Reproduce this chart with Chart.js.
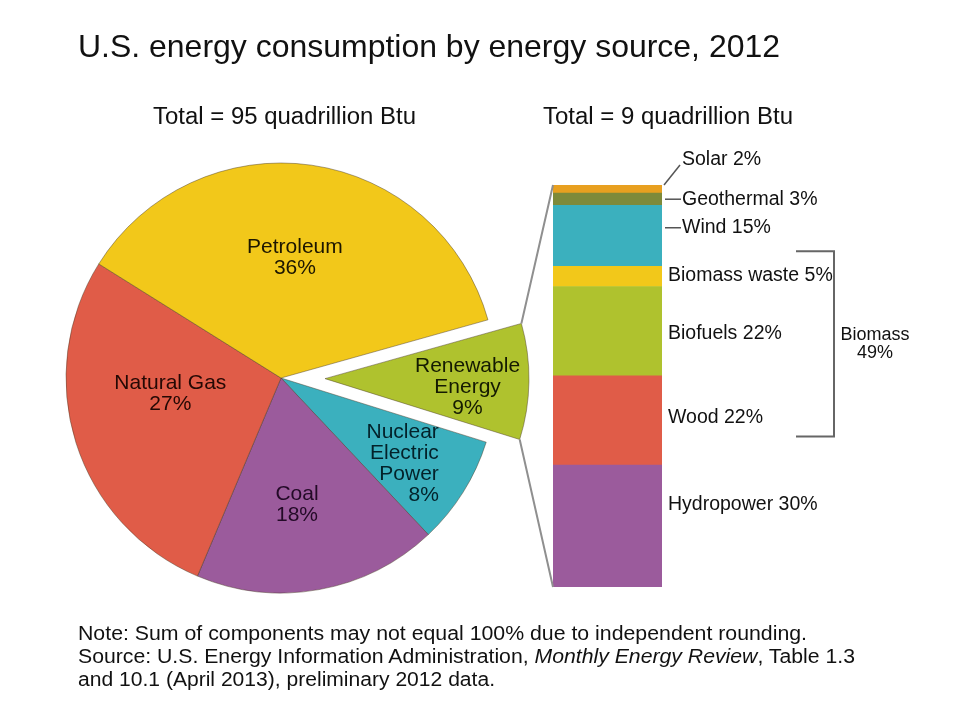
<!DOCTYPE html>
<html><head><meta charset="utf-8">
<script src="https://cdn.jsdelivr.net/npm/chart.js@4/dist/chart.umd.min.js"></script>
<style>
html,body{margin:0;padding:0;background:#fff;}
#wrap{position:relative;width:960px;height:720px;overflow:hidden;font-family:'Liberation Sans',Arial,sans-serif;color:#111;}
canvas{position:absolute;left:0;top:0;}
.t{position:absolute;white-space:nowrap;transform-origin:0 0;line-height:1;}
</style></head><body>
<div id="wrap">
<canvas id="pieMain" width="960" height="720"></canvas>
<canvas id="pieExp" width="960" height="720"></canvas>
<canvas id="bar" width="960" height="720"></canvas>
<div class="t fit" id="title" data-w="702" style="left:78px;top:30px;font-size:32px;"></div>
<div class="t fit" id="sub1" data-w="263" style="left:153px;top:105px;font-size:23px;"></div>
<div class="t fit" id="sub2" data-w="250" style="left:543px;top:105px;font-size:23px;"></div>
<div class="t fit" id="note1" data-w="729" style="left:78px;top:623px;font-size:20px;"></div>
<div class="t fit" id="note2" data-w="777" style="left:78px;top:646px;font-size:20px;"></div>
<div class="t fit" id="note3" data-w="417" style="left:78px;top:669px;font-size:20px;"></div>
</div>
<script>
// ---------- data ----------
const chartTitle = 'U.S. energy consumption by energy source, 2012';
const totalLabels = ['Total = 95 quadrillion Btu', 'Total = 9 quadrillion Btu'];
const energySources = ['Renewable Energy', 'Nuclear Electric Power', 'Coal', 'Natural Gas', 'Petroleum'];
const energyShares = [9, 8, 18, 27, 36];
const energyLabelLines = [['Renewable', 'Energy'], ['Nuclear', 'Electric', 'Power'], ['Coal'], ['Natural Gas'], ['Petroleum']];
const renewableSources = ['Hydropower', 'Wood', 'Biofuels', 'Biomass waste', 'Wind', 'Geothermal', 'Solar'];
const renewableShares = [30, 22, 22, 5, 15, 3, 2];
const biomassSources = ['Wood', 'Biofuels', 'Biomass waste'];
const biomassLabel = 'Biomass';
const noteLines = [
  'Note: Sum of components may not equal 100% due to independent rounding.',
  'Source: U.S. Energy Information Administration, <i>Monthly Energy Review</i>, Table 1.3',
  'and 10.1 (April 2013), preliminary 2012 data.'
];

// ---------- styles ----------
const FONT = "'Liberation Sans', Arial, sans-serif";
const pieColors = ['#AFC22E', '#3BB0BE', '#9B5B9C', '#E05C48', '#F2C81A'];
const pieTextColors = ['#141a02', '#03222a', '#230a27', '#240804', '#1c1600'];
const pieBorder = 'rgba(70,55,35,0.45)';
const barColors = ['#9B5B9C', '#E05C48', '#AFC22E', '#F2C81A', '#3BB0BE', '#7E8A3A', '#E8A020'];
const pieRotation = 74.3;
const pieRadius = 215;
const expRadius = 204;
const explode = 44;
const pieCenter = {x: 281, y: 378};
// label placement per slice: radius fraction, angle shift (deg), alignment
const pieLabelCfg = [
  {r: 0.70, da: 2.6, align: 'center'},
  {r: 0.835, da: -3.6, align: 'right'},
  {r: 0.595, da: 3, align: 'center'},
  {r: 0.52, da: 9.4, align: 'center'},
  {r: 0.565, da: -1.6, align: 'center'}
];
// bar label placement: dy from segment centre, leader type
const barLabelCfg = [
  {dy: -21, leader: 'none'}, {dy: -3, leader: 'none'}, {dy: 2, leader: 'none'},
  {dy: -1, leader: 'none'}, {dy: -8, leader: 'h'}, {dy: 0, leader: 'h'}, {dy: 0, leader: 'diag'}
];

// ---------- html text ----------
document.getElementById('title').textContent = chartTitle;
document.getElementById('sub1').textContent = totalLabels[0];
document.getElementById('sub2').textContent = totalLabels[1];
noteLines.forEach((l, i) => document.getElementById('note' + (i + 1)).innerHTML = l);
document.querySelectorAll('.fit').forEach(el => {
  const w = el.getBoundingClientRect().width;
  el.style.transform = 'scaleX(' + (+el.dataset.w / w) + ')';
});

// ---------- pies ----------
const shareSum = energyShares.reduce((a, b) => a + b, 0);
const midDeg = pieRotation - 90 + 360 * energyShares[0] / shareSum / 2;
const expCenter = {
  x: pieCenter.x + explode * Math.cos(midDeg * Math.PI / 180),
  y: pieCenter.y + explode * Math.sin(midDeg * Math.PI / 180)
};
const common = {responsive: false, animation: false, events: [], rotation: pieRotation,
  plugins: {legend: {display: false}, tooltip: {enabled: false}}};

const mainPie = new Chart(document.getElementById('pieMain'), {
  type: 'pie',
  data: {labels: energySources, datasets: [{
    data: energyShares,
    backgroundColor: pieColors.map((c, i) => i === 0 ? 'rgba(0,0,0,0)' : c),
    borderColor: pieColors.map((c, i) => i === 0 ? 'rgba(0,0,0,0)' : pieBorder),
    borderWidth: pieColors.map((c, i) => i === 0 ? 0 : 1)
  }]},
  options: Object.assign({}, common, {radius: pieRadius,
    layout: {padding: {left: 0, right: 960 - 2 * pieCenter.x, top: 2 * pieCenter.y - 720, bottom: 0}}})
});
const expPie = new Chart(document.getElementById('pieExp'), {
  type: 'pie',
  data: {labels: energySources, datasets: [{
    data: energyShares,
    backgroundColor: pieColors.map((c, i) => i === 0 ? c : 'rgba(0,0,0,0)'),
    borderColor: pieColors.map((c, i) => i === 0 ? pieBorder : 'rgba(0,0,0,0)'),
    borderWidth: pieColors.map((c, i) => i === 0 ? 1 : 0)
  }]},
  options: Object.assign({}, common, {radius: expRadius,
    layout: {padding: {left: 0, right: 960 - 2 * expCenter.x, top: 2 * expCenter.y - 720, bottom: 0}}})
});

// ---------- annotations ----------
const annot = {
  id: 'annot',
  afterDraw(chart) {
    const ctx = chart.ctx;
    ctx.save();
    // pie labels
    energySources.forEach((s, i) => {
      const src = i === 0 ? expPie : mainPie;
      const arc = src.getDatasetMeta(0).data[i];
      const p = arc.getProps(['x', 'y', 'startAngle', 'endAngle', 'outerRadius'], true);
      const cfg = pieLabelCfg[i];
      const a = (p.startAngle + p.endAngle) / 2 + cfg.da * Math.PI / 180;
      const ax = p.x + Math.cos(a) * p.outerRadius * cfg.r;
      const ay = p.y + Math.sin(a) * p.outerRadius * cfg.r;
      const lines = energyLabelLines[i].concat([energyShares[i] + '%']);
      const lh = 21;
      ctx.font = '21px ' + FONT;
      ctx.fillStyle = pieTextColors[i];
      ctx.textAlign = cfg.align;
      ctx.textBaseline = 'middle';
      lines.forEach((l, k) => ctx.fillText(l, ax, ay + (k - (lines.length - 1) / 2) * lh));
    });

    // connectors
    const metas = renewableSources.map((s, i) => chart.getDatasetMeta(i).data[0]);
    const topBar = metas[metas.length - 1].getProps(['x', 'y', 'base', 'width'], true);
    const botBar = metas[0].getProps(['x', 'y', 'base', 'width'], true);
    const rarc = expPie.getDatasetMeta(0).data[0].getProps(['x', 'y', 'startAngle', 'endAngle', 'outerRadius'], true);
    ctx.strokeStyle = '#8f8f8f';
    ctx.lineWidth = 2;
    ctx.beginPath();
    ctx.moveTo(rarc.x + rarc.outerRadius * Math.cos(rarc.startAngle), rarc.y + rarc.outerRadius * Math.sin(rarc.startAngle));
    ctx.lineTo(topBar.x - topBar.width / 2, topBar.y);
    ctx.moveTo(rarc.x + rarc.outerRadius * Math.cos(rarc.endAngle), rarc.y + rarc.outerRadius * Math.sin(rarc.endAngle));
    ctx.lineTo(botBar.x - botBar.width / 2, botBar.base);
    ctx.stroke();

    // bar labels
    ctx.font = '19.5px ' + FONT;
    ctx.fillStyle = '#111';
    ctx.textAlign = 'left';
    ctx.textBaseline = 'middle';
    ctx.strokeStyle = '#555';
    ctx.lineWidth = 1.5;
    const labelY = [];
    metas.forEach((el, i) => {
      const p = el.getProps(['x', 'y', 'base', 'width'], true);
      const right = p.x + p.width / 2;
      const cfg = barLabelCfg[i];
      let y = (p.y + p.base) / 2 + cfg.dy;
      let x = right + 6;
      if (cfg.leader === 'h') {
        x = right + 20;
        ctx.beginPath(); ctx.moveTo(right + 3, y); ctx.lineTo(right + 19, y); ctx.stroke();
      } else if (cfg.leader === 'diag') {
        y = p.y - 25;
        x = right + 20;
        ctx.beginPath(); ctx.moveTo(right + 2, p.y); ctx.lineTo(right + 18, p.y - 20); ctx.stroke();
      }
      labelY[i] = y;
      ctx.fillText(renewableSources[i] + ' ' + renewableShares[i] + '%', x, y);
    });

    // biomass bracket
    const bIdx = biomassSources.map(s => renewableSources.indexOf(s));
    const bTop = Math.min(...bIdx.map(i => labelY[i])) - 24;
    const bBot = Math.max(...bIdx.map(i => labelY[i])) + 19;
    const bx = 834, bl = 796;
    ctx.strokeStyle = '#666';
    ctx.lineWidth = 2;
    ctx.beginPath();
    ctx.moveTo(bl, bTop); ctx.lineTo(bx, bTop); ctx.lineTo(bx, bBot); ctx.lineTo(bl, bBot);
    ctx.stroke();
    const bSum = bIdx.reduce((a, i) => a + renewableShares[i], 0);
    ctx.font = '18px ' + FONT;
    ctx.textAlign = 'center';
    ctx.fillStyle = '#111';
    const bc = (bTop + bBot) / 2;
    ctx.fillText(biomassLabel, 875, bc - 9);
    ctx.fillText(bSum + '%', 875, bc + 9);
    ctx.restore();
  }
};

const barTotal = renewableShares.reduce((a, b) => a + b, 0);
new Chart(document.getElementById('bar'), {
  type: 'bar',
  data: {labels: ['Renewable Energy'], datasets: renewableSources.map((s, i) => ({
    label: s, data: [renewableShares[i]], backgroundColor: barColors[i], borderWidth: 0,
    barPercentage: 1, categoryPercentage: 1
  }))},
  options: {responsive: false, animation: false, events: [],
    layout: {padding: {left: 553, right: 298, top: 185, bottom: 133}},
    scales: {x: {display: false, stacked: true}, y: {display: false, stacked: true, min: 0, max: barTotal}},
    plugins: {legend: {display: false}, tooltip: {enabled: false}}},
  plugins: [annot]
});
</script>
</body></html>
